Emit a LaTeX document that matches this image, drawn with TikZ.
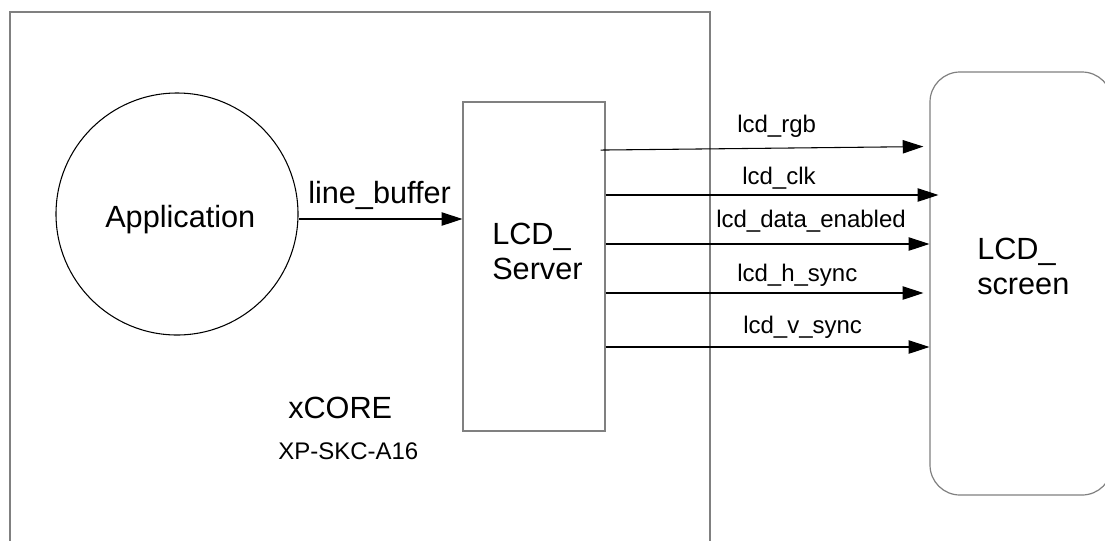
\documentclass[tikz,border=0pt]{standalone}
\usepackage{fontspec}
\setmainfont{Liberation Sans}
\usetikzlibrary{arrows.meta}
\definecolor{boxgrey}{RGB}{128,128,128}
\begin{document}
\begin{tikzpicture}[x=0.75pt,y=-0.75pt,
  box/.style={draw=boxgrey, line width=0.9pt},
  sig/.style={draw=black, line width=0.8pt, -{Triangle[length=15.5pt,width=10pt]}},
  biglbl/.style={font=\fontsize{23}{25.8}\selectfont, inner sep=0pt},
  smalllbl/.style={font=\fontsize{18}{21}\selectfont, inner sep=0pt}]
\useasboundingbox (0,0) rectangle (1105,540);
\fill[white] (0,0) rectangle (1105,540);

% xCORE region (open at the bottom)
\coordinate (cbl) at (10,541);
\coordinate (ctl) at (10,12);
\coordinate (ctr) at (710,12);
\coordinate (cbr) at (710,541);
\draw[box] (cbl) -- (ctl) -- (ctr) -- (cbr);

% shapes
\node[circle, draw=black, line width=0.8pt, minimum size=181.5pt, inner sep=0pt] (app) at (177,214) {};
\node[box, rectangle, minimum width=106.5pt, minimum height=246.75pt, inner sep=0pt] (server) at (534,266.5) {};
\node[box, rectangle, rounded corners=22.5pt, minimum width=136.5pt, minimum height=317.25pt, inner sep=0pt] (screen) at (1021,283.5) {};

% texts
\node[biglbl, anchor=base west] (apptext) at (105,227) {Application};
\node[biglbl, anchor=base west] (lbtext) at (308,203) {line\_buffer};
\node[biglbl, anchor=north west, align=left] (srvtext) at (492,223) {LCD\_\\Server};
\node[biglbl, anchor=north west, align=left] (scrtext) at (977,238) {LCD\_\\screen};
\node[biglbl, anchor=base west] (xcore) at (288,418) {xCORE};
\node[smalllbl, anchor=base west] (chip) at (278,459) {XP-SKC-A16};

% connectors
\draw[sig] (app.east |- 0,219) -- (server.west |- 0,219);
\draw[sig, shorten <=-3.75pt, shorten >=4.5pt] (server.east |- 0,150) -- (screen.west |- 0,146.5);
\draw[sig, shorten >=-6.75pt] (server.east |- 0,195) -- (screen.west |- 0,195);
\draw[sig] (server.east |- 0,244) -- (screen.west |- 0,244);
\draw[sig, shorten >=4.5pt] (server.east |- 0,293) -- (screen.west |- 0,293);
\draw[sig] (server.east |- 0,347) -- (screen.west |- 0,347);

% signal labels
\node[smalllbl, anchor=base west] (lrgb) at (737,132) {lcd\_rgb};
\node[smalllbl, anchor=base west] (lclk) at (742,184) {lcd\_clk};
\node[smalllbl, anchor=base west] (lde) at (716,227) {lcd\_data\_enabled};
\node[smalllbl, anchor=base west] (lhs) at (737,281) {lcd\_h\_sync};
\node[smalllbl, anchor=base west] (lvs) at (743,333) {lcd\_v\_sync};
\end{tikzpicture}
\end{document}
